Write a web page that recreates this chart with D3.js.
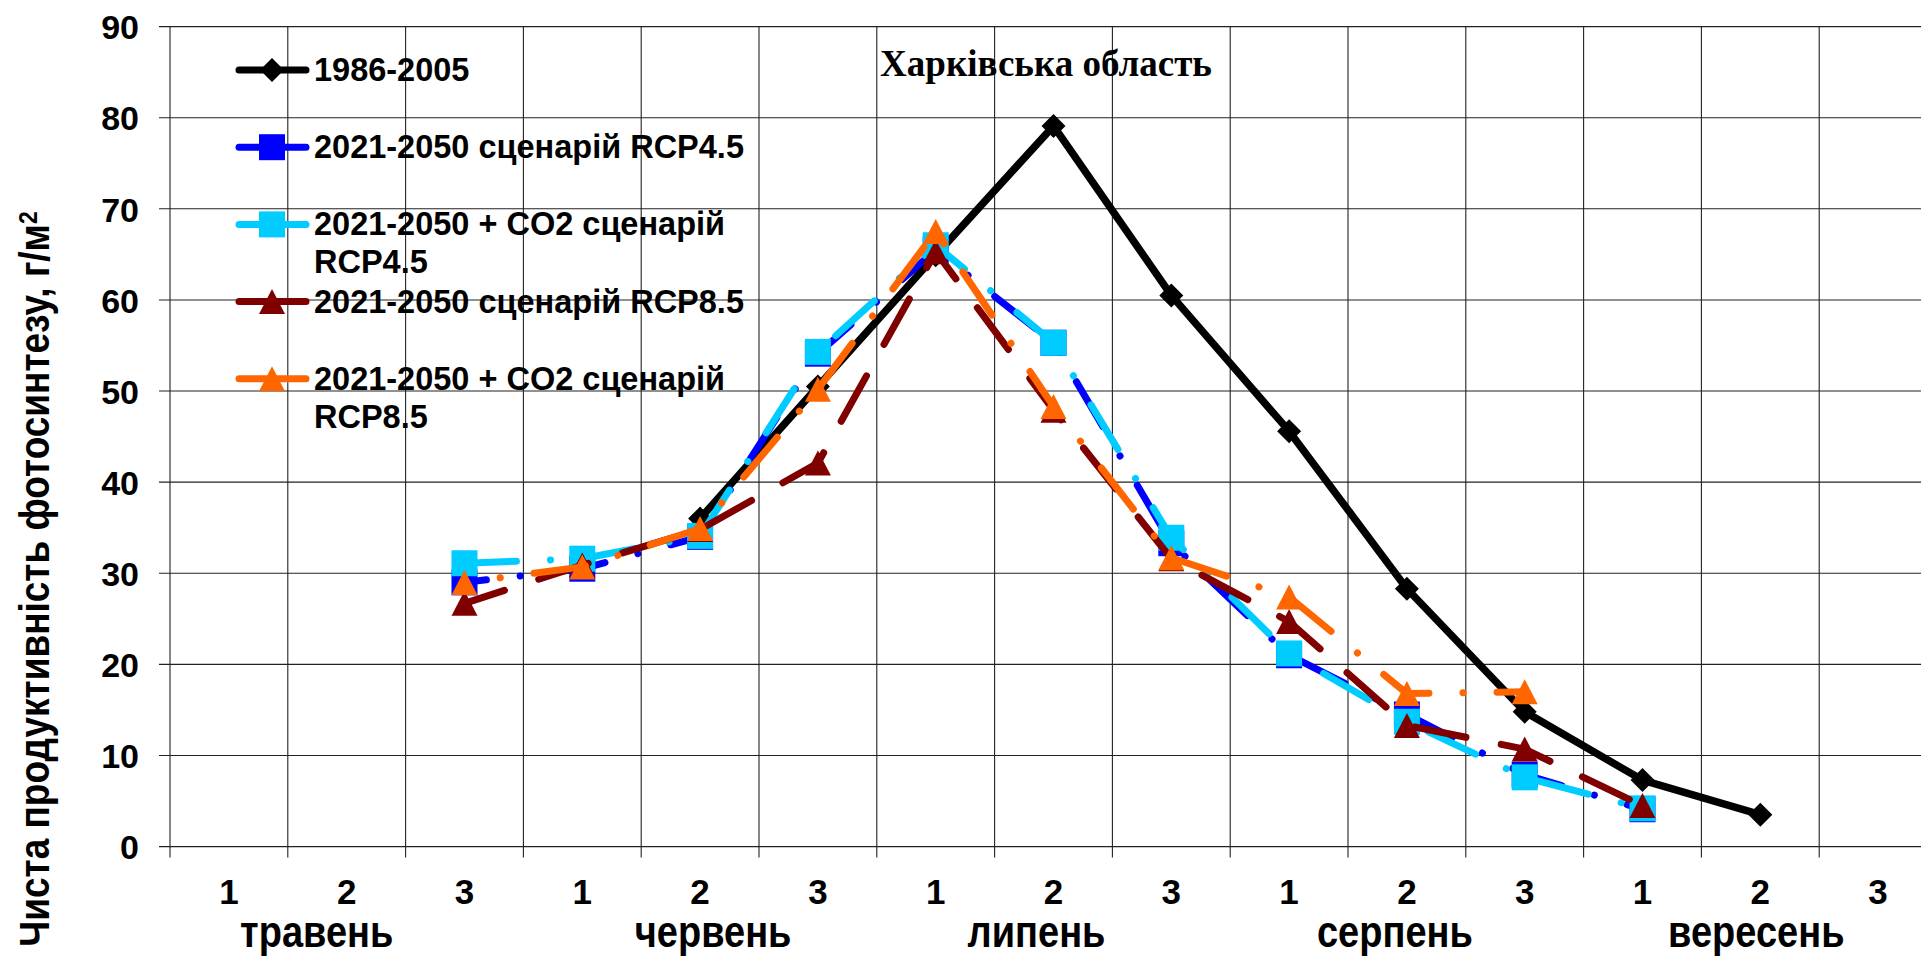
<!DOCTYPE html>
<meta charset="utf-8">
<head>
  <script src="https://cdn.jsdelivr.net/npm/d3@7/dist/d3.min.js"></script>
  <style>
    body { margin: 0; background: #fff; }
    text { font-family: "Liberation Sans", Arial, sans-serif; font-weight: bold; fill: #000; }
    .title { font-family: "Liberation Serif", "Times New Roman", serif; font-size: 37px; }
    .grid line { stroke: #222; stroke-width: 1.1; }
  </style>
</head>
<body>
<div id="chart"></div>
<script>
// categories: decades of each month
var categories = ["1","2","3","1","2","3","1","2","3","1","2","3","1","2","3"];
var months = ["травень","червень","липень","серпень","вересень"];
var yTicks = [0,10,20,30,40,50,60,70,80,90];

// series values (г/м2), null = no point
var base1986 = [null,null,null,null,36.0,50.5,64.9,79.1,60.5,45.6,28.3,14.8,7.3,3.5,null];
var rcp45    = [null,null,29.0,30.5,34.0,54.1,65.5,55.3,33.3,21.0,14.5,7.9,4.1,null,null];
var rcp45co2 = [null,null,31.1,31.6,34.1,54.3,66.0,55.3,33.9,21.2,13.7,7.6,4.2,null,null];
var rcp85    = [null,null,26.7,30.9,34.8,42.1,65.3,47.9,31.6,24.7,13.3,10.7,4.5,null,null];
var rcp85co2 = [null,null,29.0,30.7,34.9,50.2,67.5,48.3,31.7,27.4,16.8,17.0,null,null,null];

var seriesNames = [
  ["1986-2005"],
  ["2021-2050 сценарій RCP4.5"],
  ["2021-2050 + CO2 сценарій", "RCP4.5"],
  ["2021-2050 сценарій RCP8.5"],
  ["2021-2050 + CO2 сценарій", "RCP8.5"]
];

var w = 1921, h = 957;
var left = 170, band = 117.8;
// month labels are not exactly centred in the original
var monthShift = [-30, 13, -17, -12, -4];

var svg = d3.select("#chart").append("svg").attr("width", w).attr("height", h);

var x = d3.scaleBand().domain(d3.range(categories.length))
  .range([left, left + categories.length * band]).padding(0);
var y = d3.scaleLinear().domain([0, 90]).range([846.6, 26.6]);

// grid
var grid = svg.append("g").attr("class", "grid");
grid.selectAll(".hl").data(yTicks).enter().append("line")
  .attr("x1", left - 11).attr("x2", w)
  .attr("y1", d => y(d)).attr("y2", d => y(d));
grid.selectAll(".vl").data(d3.range(categories.length + 1)).enter().append("line")
  .attr("x1", d => left + d * band).attr("x2", d => left + d * band)
  .attr("y1", y(90)).attr("y2", y(0) + 11);

// axes (labels)
var yAxis = svg.append("g").attr("transform", "translate(" + left + ",0)")
  .call(d3.axisLeft(y).tickValues(yTicks).tickSize(0).tickPadding(31));
yAxis.select(".domain").remove();
yAxis.selectAll("text").style("font-size", "34px").attr("dy", "0.36em");

var xAxis = svg.append("g").attr("transform", "translate(0," + y(0) + ")")
  .call(d3.axisBottom(x).tickSize(0).tickPadding(33).tickFormat(i => categories[i]));
xAxis.select(".domain").remove();
xAxis.selectAll("text").style("font-size", "35px");

svg.selectAll(".month").data(months).enter().append("text")
  .attr("transform", (d, i) => "translate(" + (x(i * 3 + 1) + band / 2 + monthShift[i]) + ",947) scale(1,1.15)")
  .attr("text-anchor", "middle")
  .style("font-size", "38px")
  .text(d => d);

// y title
var yt = svg.append("text")
  .attr("transform", "translate(49,579) rotate(-90) scale(1,1.15)")
  .attr("text-anchor", "middle")
  .style("font-size", "37px");
yt.append("tspan").text("Чиста продуктивність фотосинтезу, г/м");
yt.append("tspan").attr("dy", "-0.45em").style("font-size", "23px").text("2");

// chart title
svg.append("text").attr("class", "title")
  .attr("x", 1046).attr("y", 76).attr("text-anchor", "middle")
  .text("Харківська область");

// markers
function diamond(s) { return "M0," + (-s) + "L" + s + ",0L0," + s + "L" + (-s) + ",0Z"; }
function square(s) { return "M" + (-s) + "," + (-s) + "h" + 2 * s + "v" + 2 * s + "h" + (-2 * s) + "Z"; }
function triangle(s) { return "M0," + (-s) + "L" + (s + 0.5) + "," + s + "L" + (-s - 0.5) + "," + s + "Z"; }

var series = [
  { values: base1986, color: "#000000", dash: null, marker: diamond(12), off: 0, lw: 7.5 },
  { values: rcp45, color: "#0000ff", dash: "52,34,0.1,34", marker: square(13), off: 30, lw: 7 },
  { values: rcp45co2, color: "#00ccff", dash: "52,34,0.1,34", marker: square(13), off: 0, lw: 7 },
  { values: rcp85, color: "#800000", dash: "52,36", marker: triangle(12.5), off: 10, lw: 7 },
  { values: rcp85co2, color: "#ff6600", dash: "52,34,0.1,34", marker: triangle(12.5), off: 50, lw: 7 }
];

var line = d3.line()
  .defined(d => d != null)
  .x((d, i) => x(i) + band / 2)
  .y(d => y(d));

series.forEach(function (s) {
  var g = svg.append("g");
  g.append("path")
    .attr("d", line(s.values))
    .attr("fill", "none")
    .attr("stroke", s.color)
    .attr("stroke-width", s.lw)
    .attr("stroke-linecap", "round")
    .attr("stroke-linejoin", "round")
    .attr("stroke-dasharray", s.dash)
    .attr("stroke-dashoffset", s.off);
  g.selectAll("path.m").data(s.values.map((v, i) => [i, v]).filter(d => d[1] != null))
    .enter().append("path").attr("class", "m")
    .attr("transform", d => "translate(" + (x(d[0]) + band / 2) + "," + y(d[1]) + ")")
    .attr("d", s.marker)
    .attr("fill", s.color);
});

// legend
var legend = svg.append("g");
series.forEach(function (s, i) {
  var ry = 70 + i * 77.2;
  legend.append("line")
    .attr("x1", 239).attr("x2", 306).attr("y1", ry).attr("y2", ry)
    .attr("stroke", s.color).attr("stroke-width", 7).attr("stroke-linecap", "round");
  legend.append("path")
    .attr("transform", "translate(272," + ry + ")")
    .attr("d", s.marker).attr("fill", s.color);
  seriesNames[i].forEach(function (t, j) {
    legend.append("text")
      .attr("x", 314).attr("y", ry + 11 + j * 38)
      .style("font-size", "32.5px")
      .text(t);
  });
});
</script>
</body>
</html>
